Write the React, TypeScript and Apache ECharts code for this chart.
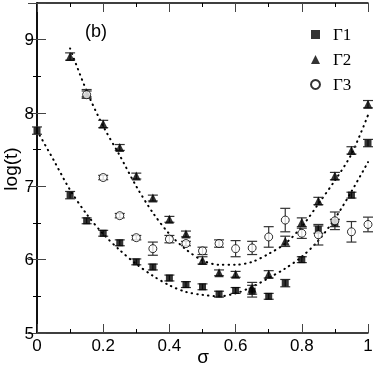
import React, { useEffect, useRef } from 'react';
import * as echarts from 'echarts';

// Γ1 (filled squares)
const sigma1 = [0, 0.1, 0.15, 0.2, 0.25, 0.3, 0.35, 0.4, 0.45, 0.5, 0.55, 0.6, 0.65, 0.7, 0.75, 0.8, 0.85, 0.9, 0.95, 1.0];
const logt1 = [7.76, 6.88, 6.53, 6.36, 6.23, 5.97, 5.9, 5.75, 5.66, 5.63, 5.53, 5.58, 5.57, 5.5, 5.68, 6.0, 6.41, 6.5, 6.88, 7.59];
const err1 = [0.05, 0.05, 0.04, 0.04, 0.04, 0.04, 0.04, 0.04, 0.04, 0.04, 0.04, 0.04, 0.08, 0.04, 0.05, 0.04, 0.05, 0.05, 0.04, 0.05];

// Γ2 (filled triangles)
const sigma2 = [0.1, 0.15, 0.2, 0.25, 0.3, 0.35, 0.4, 0.45, 0.5, 0.55, 0.6, 0.65, 0.7, 0.75, 0.8, 0.85, 0.9, 0.95, 1.0];
const logt2 = [8.77, 8.27, 7.85, 7.53, 7.14, 6.84, 6.55, 6.35, 5.99, 5.82, 5.8, 5.61, 5.8, 6.25, 6.51, 6.8, 7.14, 7.49, 8.12];
const err2 = [0.05, 0.05, 0.05, 0.04, 0.04, 0.04, 0.04, 0.04, 0.05, 0.04, 0.04, 0.08, 0.05, 0.07, 0.06, 0.05, 0.05, 0.05, 0.05];

// Γ3 (open circles)
const sigma3 = [0.15, 0.2, 0.25, 0.3, 0.35, 0.4, 0.45, 0.5, 0.55, 0.6, 0.65, 0.7, 0.75, 0.8, 0.85, 0.9, 0.95, 1.0];
const logt3 = [8.25, 7.12, 6.6, 6.3, 6.15, 6.28, 6.22, 6.12, 6.22, 6.15, 6.16, 6.31, 6.54, 6.36, 6.34, 6.53, 6.38, 6.48];
const err3 = [0.05, 0.03, 0.03, 0.03, 0.09, 0.05, 0.03, 0.05, 0.05, 0.11, 0.09, 0.14, 0.16, 0.07, 0.14, 0.12, 0.14, 0.1];

// dotted fit curves
const fitSigma1 = [0, 0.05, 0.1, 0.15, 0.2, 0.25, 0.3, 0.35, 0.4, 0.45, 0.5, 0.55, 0.6, 0.65, 0.7, 0.75, 0.8, 0.85, 0.9, 0.95, 1.0];
const fitLogt1 = [7.76, 7.36, 6.95, 6.62, 6.35, 6.13, 5.94, 5.78, 5.65, 5.56, 5.52, 5.5, 5.54, 5.63, 5.75, 5.88, 6.04, 6.26, 6.56, 6.93, 7.33];
const fitSigma2 = [0.1, 0.15, 0.2, 0.25, 0.3, 0.35, 0.4, 0.45, 0.5, 0.55, 0.6, 0.65, 0.7, 0.75, 0.8, 0.85, 0.9, 0.95, 1.0];
const fitLogt2 = [8.88, 8.3, 7.82, 7.42, 7.0, 6.64, 6.35, 6.14, 5.99, 5.93, 5.93, 5.97, 6.08, 6.22, 6.45, 6.76, 7.08, 7.44, 7.97];

const yTicks = [5, 6, 7, 8, 9];
const xTitle = 'σ';
const yTitle = 'log(t)';
const panelLabel = '(b)';

const zip3 = (a: number[], b: number[], c: number[]) => a.map((v, i) => [v, b[i], c[i]]);
const zip2 = (a: number[], b: number[]) => a.map((v, i) => [v, b[i]]);

const errRender = (params: any, api: any) => {
  const x = api.value(0);
  const y = api.value(1);
  const e = api.value(2);
  const top = api.coord([x, y + e]);
  const bot = api.coord([x, y - e]);
  const hw = 5;
  const style = { stroke: '#333', lineWidth: 1.2 };
  return {
    type: 'group',
    children: [
      { type: 'line', shape: { x1: top[0], y1: top[1], x2: bot[0], y2: bot[1] }, style },
      { type: 'line', shape: { x1: top[0] - hw, y1: top[1], x2: top[0] + hw, y2: top[1] }, style },
      { type: 'line', shape: { x1: bot[0] - hw, y1: bot[1], x2: bot[0] + hw, y2: bot[1] }, style },
    ],
  };
};

const SANS = 'Liberation Sans';
const SERIF = 'Liberation Serif';

export default function App() {
  const ref = useRef<HTMLDivElement>(null);
  useEffect(() => {
    if (!ref.current) return;
    const chart = echarts.init(ref.current, undefined, { renderer: 'svg' });
    const axisLine = { show: true, lineStyle: { color: '#000', width: 1.5 } };
    const tickStyle = { color: '#444', width: 1 };
    const errSeries = (name: string, data: number[][]) => ({
      type: 'custom',
      name,
      renderItem: errRender,
      data,
      encode: { x: 0, y: 1 },
      clip: false,
      z: 3,
      silent: true,
    });
    const fitSeries = (name: string, data: number[][]) => ({
      type: 'line',
      name,
      data,
      showSymbol: false,
      symbol: 'none',
      smooth: 0.3,
      lineStyle: { color: '#000', width: 2, type: [0.5, 5], cap: 'round' },
      z: 2,
      silent: true,
    });
    chart.setOption({
      animation: false,
      grid: { left: 37, right: 6, top: 3, bottom: 34, outerBoundsMode: 'none', containLabel: false },
      legend: {
        orient: 'vertical',
        left: 305,
        top: 21,
        itemWidth: 9,
        itemHeight: 9,
        itemGap: 8,
        selectedMode: false,
        textStyle: { fontFamily: SERIF, fontSize: 17, color: '#000', padding: [0, 0, 0, 8] },
        data: [
          { name: 'Γ1', icon: 'rect' },
          { name: 'Γ2', icon: 'triangle' },
          { name: 'Γ3', icon: 'circle' },
        ],
      },
      xAxis: [
        {
          type: 'value',
          min: 0,
          max: 1,
          interval: 0.2,
          axisLine,
          axisTick: { show: true, inside: true, length: 9, lineStyle: tickStyle },
          minorTick: { show: true, splitNumber: 2, length: 4, lineStyle: { color: '#000', width: 1 } },
          axisLabel: { fontFamily: SANS, fontSize: 17, color: '#000', margin: 4 },
          splitLine: { show: false },
        },
        {
          type: 'value',
          position: 'top',
          min: 0,
          max: 1,
          interval: 0.2,
          axisLine,
          axisTick: { show: true, inside: true, length: 9, lineStyle: tickStyle },
          minorTick: { show: true, splitNumber: 2, length: 4, lineStyle: { color: '#000', width: 1 } },
          axisLabel: { show: false },
          splitLine: { show: false },
        },
      ],
      yAxis: [
        {
          type: 'value',
          min: 5,
          max: 9.5,
          interval: 1,
          axisLine,
          axisTick: { show: true, inside: true, length: 9, lineStyle: tickStyle },
          minorTick: { show: true, splitNumber: 2, length: 4, lineStyle: { color: '#000', width: 1 } },
          axisLabel: {
            fontFamily: SANS,
            fontSize: 17,
            color: '#000',
            margin: 3,
            formatter: (v: number) => (yTicks.includes(v) ? String(v) : ''),
          },
          splitLine: { show: false },
        },
        {
          type: 'value',
          position: 'right',
          min: 5,
          max: 9.5,
          interval: 1,
          axisLine,
          axisTick: { show: true, inside: true, length: 9, lineStyle: tickStyle },
          minorTick: { show: true, splitNumber: 2, length: 4, lineStyle: { color: '#000', width: 1 } },
          axisLabel: { show: false },
          splitLine: { show: false },
        },
      ],
      graphic: [
        {
          type: 'text',
          left: 85,
          top: 22,
          style: { text: panelLabel, fontFamily: SANS, fontSize: 18, fill: '#000' },
        },
        {
          type: 'text',
          x: 203,
          y: 356,
          style: { text: xTitle, fontFamily: SANS, fontSize: 19, fill: '#000', align: 'center', verticalAlign: 'middle' },
        },
        {
          type: 'text',
          x: 10,
          y: 169,
          rotation: Math.PI / 2,
          style: { text: yTitle, fontFamily: SANS, fontSize: 19, fill: '#000', align: 'center', verticalAlign: 'middle' },
        },
      ],
      series: [
        fitSeries('fit1', zip2(fitSigma1, fitLogt1)),
        fitSeries('fit2', zip2(fitSigma2, fitLogt2)),
        errSeries('e1', zip3(sigma1, logt1, err1)),
        errSeries('e2', zip3(sigma2, logt2, err2)),
        errSeries('e3', zip3(sigma3, logt3, err3)),
        {
          type: 'scatter',
          name: 'Γ1',
          data: zip2(sigma1, logt1),
          symbol: 'rect',
          symbolSize: 7,
          itemStyle: { color: '#000' },
          clip: false,
          z: 4,
        },
        {
          type: 'scatter',
          name: 'Γ2',
          data: zip2(sigma2, logt2),
          symbol: 'triangle',
          symbolSize: 9,
          itemStyle: { color: '#000' },
          clip: false,
          z: 4,
        },
        {
          type: 'scatter',
          name: 'Γ3',
          data: zip2(sigma3, logt3),
          symbol: 'circle',
          symbolSize: 8,
          itemStyle: { color: '#fff', borderColor: '#000', borderWidth: 1 },
          clip: false,
          z: 5,
        },
      ],
    });
    return () => chart.dispose();
  }, []);
  return <div ref={ref} style={{ position: 'fixed', left: 0, top: 0, width: 374, height: 367 }} />;
}
